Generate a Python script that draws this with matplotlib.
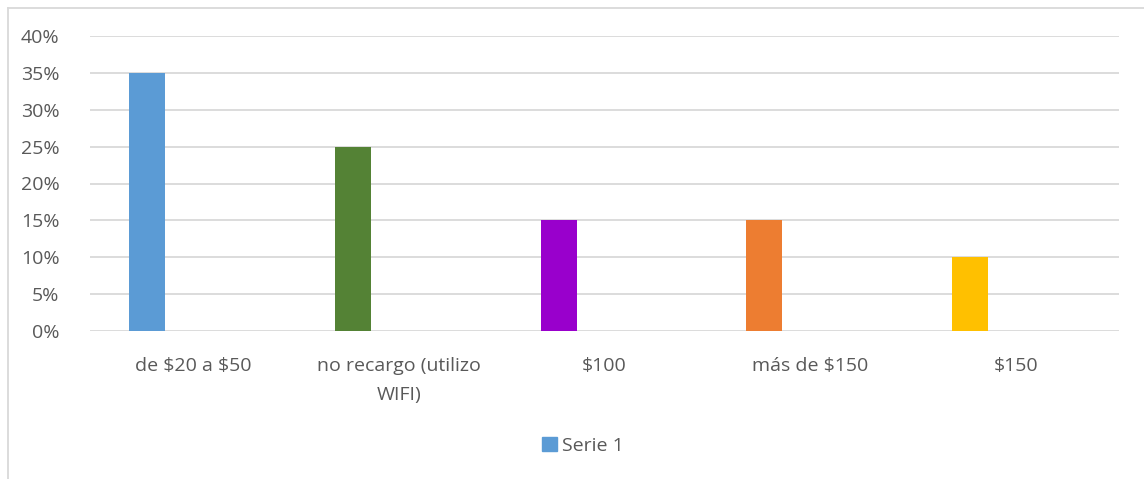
import matplotlib
matplotlib.use("Agg")
import matplotlib.pyplot as plt
from matplotlib.lines import Line2D
from matplotlib.patches import Patch

categories = ["de $20 a $50", "no recargo (utilizo\nWIFI)", "$100", "más de $150", "$150"]
values = [0.35, 0.25, 0.15, 0.15, 0.10]
colors = ["#5B9BD5", "#548235", "#9900CC", "#ED7D31", "#FFC000"]
yticks = [0, 0.05, 0.10, 0.15, 0.20, 0.25, 0.30, 0.35, 0.40]
ytick_labels = ["0%", "5%", "10%", "15%", "20%", "25%", "30%", "35%", "40%"]
series_name = "Serie 1"

plt.rcParams['font.family'] = ['Open Sans', 'DejaVu Sans']
plt.rcParams['text.parse_math'] = False
W, H = 1144, 479
fig = plt.figure(figsize=(W/100, H/100), dpi=100)
ax = fig.add_axes([90/W, 1-331/H, (1119-90)/W, (331-36)/H])

x = range(len(categories))
ax.bar([i - 0.223 for i in x], values, width=0.175, color=colors, zorder=3)
ax.set_xlim(-0.5, len(categories) - 0.5)
ax.set_ylim(0, 0.40)
ax.set_yticks(yticks)
ax.set_yticklabels(ytick_labels)
ax.set_xticks(list(x))
ax.set_xticklabels(categories, linespacing=1.75)
ax.grid(axis='y', color='#D9D9D9', linewidth=1.3, zorder=0)
for s in ax.spines.values():
    s.set_visible(False)
ax.tick_params(length=0, colors='#595959', labelsize=14)
ax.tick_params(axis='x', pad=19)
ax.tick_params(axis='y', pad=22)
for lab in ax.get_yticklabels() + ax.get_xticklabels():
    lab.set_color('#595959')

# chart frame (left and top edges visible)
fig.add_artist(Line2D([8/W, 8/W], [0, 1-7.5/H], color='#D9D9D9', lw=1.3, transform=fig.transFigure))
fig.add_artist(Line2D([8/W, 1], [1-7.5/H, 1-7.5/H], color='#D9D9D9', lw=1.3, transform=fig.transFigure))

fig.legend(handles=[Patch(color=colors[0], label=series_name)], loc='center',
           bbox_to_anchor=(583/W, 1-446/H), frameon=False, fontsize=14,
           handlelength=0.75, handleheight=0.75, handletextpad=0.3, labelcolor='#595959')

fig.savefig("out.png", dpi=100)
